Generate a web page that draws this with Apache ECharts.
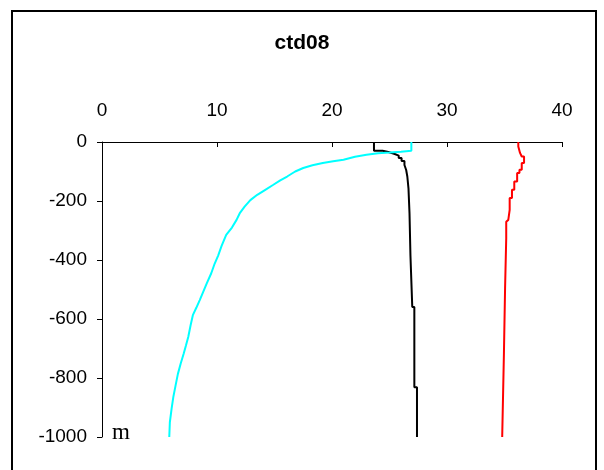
<!DOCTYPE html>
<html>
<head>
<meta charset="utf-8">
<script src="https://cdn.jsdelivr.net/npm/echarts@6/dist/echarts.min.js"></script>
<style>html,body{margin:0;padding:0;background:#fff;}#c{width:604px;height:470px;}</style>
</head>
<body>
<div id="c"></div>
<script>
// Title and axes
var chartTitle = 'ctd08';
var depthUnit = 'm';
var xTicks = [0, 10, 20, 30, 40];
var yTicks = [0, -200, -400, -600, -800, -1000];

// Cyan profile: values and depths
var cyanVal = [26.9, 26.9, 26.0, 25.0, 24.0, 23.0, 22.0, 21.0, 20.1, 19.2, 18.3, 17.5, 16.8, 16.1, 15.5, 14.9, 14.2, 13.5, 12.9, 12.4, 12.0, 11.7, 11.3, 10.8, 10.4, 10.1, 9.8, 9.5, 9.1, 8.8, 8.5, 8.2, 7.9, 7.7, 7.5, 7.3, 7.1, 6.85, 6.6, 6.4, 6.2, 6.05, 5.9, 5.85];
var cyanDepth = [0, -30, -33, -36, -38, -43, -50, -60, -65, -71, -79, -88, -100, -117, -130, -145, -162, -179, -197, -219, -240, -264, -290, -315, -352, -385, -412, -445, -480, -508, -536, -562, -587, -622, -661, -690, -718, -750, -786, -825, -865, -905, -950, -1000];

// Black profile (value holds down to the listed depth)
var blackVal = [23.65, 23.65, 24.4, 24.9, 25.4, 25.8, 26.05, 26.3, 26.45, 26.55, 26.65, 26.74, 26.82, 26.98, 27.16, 27.39];
var blackDepth = [0, -30, -34, -40, -46, -54, -64, -78, -95, -117, -157, -242, -383, -559, -831, -1000];

// Red profile (value holds down to the listed depth)
var redVal = [36.2, 36.2, 36.35, 36.5, 36.7, 36.5, 36.3, 36.1, 35.85, 35.65, 35.45, 35.33, 35.4, 35.15, 35.05, 34.95, 34.8];
var redDepth = [0, -15, -37, -49, -71, -94, -105, -134, -162, -190, -230, -264, -270, -326, -496, -717, -1000];

function pairs(v, d) { var out = []; for (var i = 0; i < v.length; i++) out.push([v[i], d[i]]); return out; }
function stairs(v, d) {
  var out = [[v[0], d[0]]];
  for (var i = 1; i < v.length; i++) { out.push([v[i], d[i - 1]]); out.push([v[i], d[i]]); }
  return out;
}

var chart = echarts.init(document.getElementById('c'), null, {renderer: 'canvas'});
var font = '"Liberation Sans", Arial, sans-serif';
chart.setOption({
  animation: false,
  backgroundColor: '#ffffff',
  title: {
    text: chartTitle, left: 'center', top: 28,
    textStyle: {fontFamily: font, fontWeight: 'bold', fontSize: 21, color: '#000'}
  },
  grid: {left: 102, right: 42, top: 142, bottom: 33, containLabel: false},
  xAxis: {
    type: 'value', position: 'top', min: xTicks[0], max: xTicks[xTicks.length - 1], interval: 10,
    axisLine: {onZero: false, lineStyle: {color: '#000', width: 1}},
    axisTick: {inside: true, length: 5, lineStyle: {color: '#000'}},
    axisLabel: {margin: 22, fontFamily: font, fontSize: 19, color: '#000', formatter: function (v) { return String(v); }},
    splitLine: {show: false}
  },
  yAxis: {
    type: 'value', min: yTicks[yTicks.length - 1], max: yTicks[0], interval: 200,
    axisLine: {onZero: false, lineStyle: {color: '#000', width: 1}},
    axisTick: {inside: false, length: 5, lineStyle: {color: '#000'}},
    axisLabel: {margin: 15, fontFamily: font, fontSize: 19, color: '#000', formatter: function (v) { return String(v); }},
    splitLine: {show: false}
  },
  series: [
    {type: 'line', data: stairs(blackVal, blackDepth), symbol: 'none', lineStyle: {color: '#000000', width: 2}, z: 2},
    {type: 'line', data: stairs(redVal, redDepth), symbol: 'none', lineStyle: {color: '#ff0000', width: 2}, z: 2},
    {type: 'line', data: pairs(cyanVal, cyanDepth), symbol: 'none', lineStyle: {color: '#00ffff', width: 2}, z: 3}
  ],
  graphic: [
    {type: 'rect', shape: {x: 12, y: 11, width: 584, height: 470}, style: {fill: 'none', stroke: '#000', lineWidth: 2}, z: 0, silent: true},
    {type: 'text', x: 112, y: 433, style: {text: depthUnit, font: '23px "Liberation Serif", "Times New Roman", serif', fill: '#000', verticalAlign: 'middle', align: 'left'}, z: 5}
  ]
});
</script>
</body>
</html>
